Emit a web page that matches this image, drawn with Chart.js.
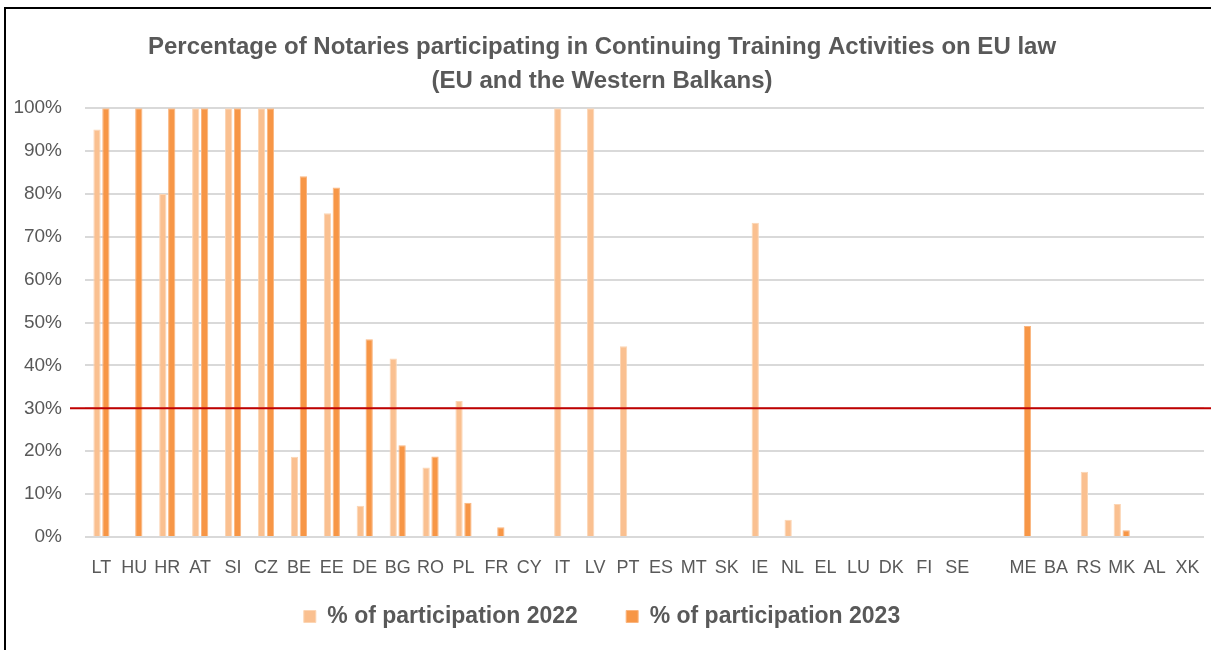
<!DOCTYPE html>
<html>
<head>
<meta charset="utf-8">
<script src="https://cdn.jsdelivr.net/npm/chart.js@4"></script>
<style>
  body { margin: 0; background: #fff; }
  #wrap { position: relative; width: 1211px; height: 650px; }
  #frame { position: absolute; left: 4px; top: 7px; right: 0; bottom: 0; border-left: 2px solid #000; border-top: 2px solid #000; pointer-events: none; }
</style>
</head>
<body>
<div id="wrap">
  <canvas id="myChart" width="1211" height="650"></canvas>
  <div id="frame"></div>
</div>
<script>
// paises (hay un hueco vacio entre SE y ME)
const countries = ['LT','HU','HR','AT','SI','CZ','BE','EE','DE','BG','RO','PL','FR','CY','IT','LV','PT','ES','MT','SK','IE','NL','EL','LU','DK','FI','SE','','ME','BA','RS','MK','AL','XK']
const part2022 = [95,0,80,100,100,100,18.7,75.5,7.3,41.6,16.2,31.7,0,0,100,100,44.5,0,0,0,73.3,4,0,0,0,0,0,0,0,0,15.2,7.7,0,0]
const part2023 = [100,100,100,100,100,100,84.1,81.5,46.1,21.4,18.8,8,2.3,0,0,0,0,0,0,0,0,0,0,0,0,0,0,0,49.2,0,0,1.6,0,0]
const yTicks = [0,10,20,30,40,50,60,70,80,90,100]
const threshold = 30

const grey = '#595959'
const font = 'Liberation Sans, Arial, sans-serif'

// linea roja del 30%
const thresholdLine = {
  id: 'thresholdLine',
  afterDatasetsDraw(chart) {
    const y = chart.scales.y.getPixelForValue(threshold)
    const ctx = chart.ctx
    ctx.save()
    ctx.strokeStyle = '#C00000'
    ctx.lineWidth = 2
    ctx.beginPath()
    ctx.moveTo(chart.chartArea.left - 15, y)
    ctx.lineTo(chart.width, y)
    ctx.stroke()
    ctx.restore()
  }
}

const ctx = document.getElementById('myChart').getContext('2d')
const myChart = new Chart(ctx, {
  type: 'bar',
  data: {
    labels: countries,
    datasets: [
      {
        label: '% of participation 2022',
        data: part2022,
        backgroundColor: '#FAC090',
        borderColor: '#FCD5B4',
        borderWidth: 1,
        categoryPercentage: 0.54,
        barPercentage: 0.82
      },
      {
        label: '% of participation 2023',
        data: part2023,
        backgroundColor: '#F79646',
        borderColor: '#FAB57F',
        borderWidth: 1,
        categoryPercentage: 0.54,
        barPercentage: 0.82
      }
    ]
  },
  options: {
    responsive: false,
    animation: false,
    layout: { padding: { left: 0, right: 7, top: 0, bottom: 12 } },
    plugins: {
      title: {
        display: true,
        text: ['Percentage of Notaries participating in Continuing Training Activities on EU law', '(EU and the Western Balkans)'],
        color: grey,
        font: { family: font, size: 24, weight: 'bold', lineHeight: 1.42 },
        padding: { top: 30, bottom: 10 }
      },
      legend: {
        position: 'bottom',
        labels: {
          color: grey,
          font: { family: font, size: 23, weight: 'bold' },
          boxWidth: 12,
          boxHeight: 12,
          padding: 10,
          // espacios extra para separar las dos entradas
          generateLabels: (chart) => {
            const items = Chart.defaults.plugins.legend.labels.generateLabels(chart)
            items.forEach((it, i) => { if (i < items.length - 1) it.text = it.text + '      ' })
            return items
          }
        }
      },
      tooltip: { enabled: false }
    },
    scales: {
      x: {
        grid: { display: false, drawTicks: true, tickLength: 20 },
        border: { display: false },
        ticks: { color: grey, font: { family: font, size: 18 }, autoSkip: false, maxRotation: 0, padding: 0 },
        afterFit: (s) => { s.height = 58 }
      },
      y: {
        min: 0,
        max: 100,
        afterBuildTicks: (s) => { s.ticks = yTicks.map(v => ({ value: v })) },
        grid: { color: '#D9D9D9', lineWidth: 2, drawTicks: false },
        border: { display: false },
        ticks: { color: grey, font: { family: font, size: 19 }, padding: 23, callback: (v) => v + '%' },
        afterFit: (s) => { s.width = 85 }
      }
    }
  },
  plugins: [thresholdLine]
})
</script>
</body>
</html>
